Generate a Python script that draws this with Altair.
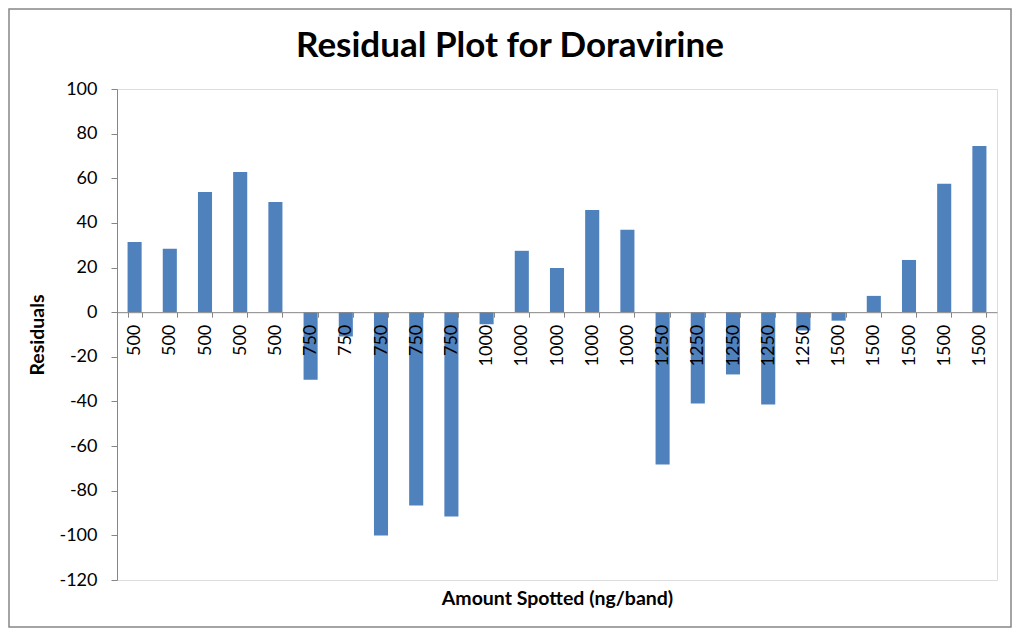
import altair as alt
import pandas as pd

# Data
amounts = ["500"] * 5 + ["750"] * 5 + ["1000"] * 5 + ["1250"] * 5 + ["1500"] * 5
residuals = [31.5, 28.4, 53.9, 62.8, 49.4,
             -30.3, -10.9, -100.1, -86.6, -91.6,
             -5.4, 27.5, 19.8, 45.8, 36.9,
             -68.3, -40.9, -27.9, -41.4, -8.2,
             -3.8, 7.3, 23.4, 57.5, 74.5]
y_ticks = list(range(-120, 101, 20))
title_text = "Residual Plot for Doravirine"

df = pd.DataFrame({
    "key": [f"{a}_{i}" for i, a in enumerate(amounts)],
    "amount": amounts,
    "residual": residuals,
})

W, H = 880, 491
PAD_L, PAD_T, PAD_R, PAD_B = 109, 81, 15, 48
Y_MIN, Y_MAX = -120, 100
zero_from_bottom = H * (0 - Y_MIN) / (Y_MAX - Y_MIN)

FONT = "Lato"
GRAY = "#868686"

bars = alt.Chart(df).mark_bar(color="#4F81BD").encode(
    x=alt.X("key:N", sort=None,
            scale=alt.Scale(paddingInner=0.6, paddingOuter=0.3),
            axis=alt.Axis(
                title="Amount Spotted (ng/band)",
                labelExpr="split(datum.label, '_')[0]",
                labelAngle=270,
                labelAlign="right",
                labelBaseline="middle",
                labelFontSize=18,
                labelFont=FONT,
                labelColor="#000000",
                labelPadding=7,
                labelOverlap=False,
                tickBand="extent",
                tickSize=5,
                tickColor=GRAY,
                domainColor=GRAY,
                offset=-zero_from_bottom,
                zindex=1,
                titleFont=FONT,
                titleFontSize=19.5,
                titleFontWeight="bold",
                titleColor="#000000",
                titleY=zero_from_bottom + 9,
                titleBaseline="top",
            )),
    y=alt.Y("residual:Q",
            scale=alt.Scale(domain=[Y_MIN, Y_MAX], nice=False, zero=False),
            axis=alt.Axis(
                title="Residuals",
                values=y_ticks,
                labelExpr="toString(datum.value)",
                grid=False,
                tickSize=6,
                tickColor=GRAY,
                domainColor=GRAY,
                labelFontSize=18,
                labelFont=FONT,
                labelColor="#000000",
                labelPadding=14,
                titleFont=FONT,
                titleFontSize=19.5,
                titleFontWeight="bold",
                titleColor="#000000",
                titleX=-70,
                titleY=H / 2,
                titleBaseline="bottom",
            )),
)

border = alt.Chart(pd.DataFrame({"a": [0]})).mark_rect(
    fill=None, stroke=GRAY, strokeWidth=1.5
).encode(
    x=alt.value(-PAD_L + 1),
    x2=alt.value(W + PAD_R - 1),
    y=alt.value(-PAD_T + 1),
    y2=alt.value(H + PAD_B - 1),
)

title = alt.Chart(pd.DataFrame({"t": [title_text]})).mark_text(
    font=FONT, fontSize=35, fontWeight="bold", color="#000000",
    align="center", baseline="alphabetic",
).encode(
    text="t:N",
    x=alt.value(393),
    y=alt.value(-32),
)

chart = alt.layer(bars, border, title).properties(
    width=W,
    height=H,
    padding={"left": PAD_L, "top": PAD_T, "right": PAD_R, "bottom": PAD_B},
    autosize=alt.AutoSizeParams(type="none"),
).configure_view(stroke=None).configure(background="white")

chart.save("out.html", embed_options={"renderer": "svg", "actions": False})
